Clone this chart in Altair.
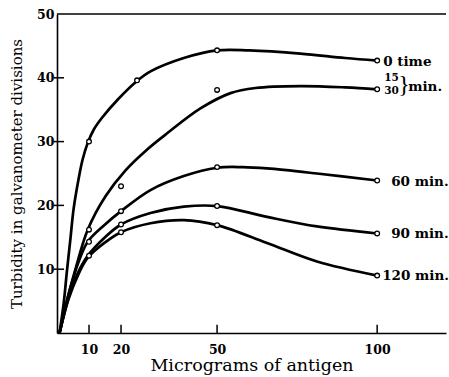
import altair as alt
import pandas as pd

# ---- data ----
series = ["0 time", "15/30 min.", "60 min.", "90 min.", "120 min."]

# smooth (hand-drawn) curves
curve_x_0 = [0.8, 2.1, 3.1, 4.2, 5.2, 6.8, 8, 9.6, 11.5, 14, 19, 25, 29.2, 39.6, 50, 60, 76, 90, 100]
curve_y_0 = [0, 4.7, 9.7, 14.8, 19.5, 24.3, 27.2, 29.8, 31.9, 33.7, 36.6, 39.5, 41, 43.1, 44.3, 44.3, 43.8, 43.1, 42.7]
curve_x_15 = [0.8, 2.6, 5.7, 9.6, 15.1, 21.4, 28, 34.4, 44.8, 54.2, 62, 76, 90, 100]
curve_y_15 = [0, 4.1, 9.9, 16.2, 21.4, 25.5, 28.7, 31.3, 35.2, 37.6, 38.4, 38.7, 38.5, 38.2]
curve_x_60 = [0.8, 3.6, 6.5, 9.6, 15, 20, 29.2, 39.6, 50, 58, 65.6, 81.2, 100]
curve_y_60 = [0, 6, 10.8, 14.3, 17, 19.1, 22.4, 24.6, 25.9, 26.0, 25.8, 25.0, 23.9]
curve_x_90 = [0.8, 3.6, 6.5, 9.6, 15, 20, 29.2, 39.6, 50, 65.6, 81.2, 100]
curve_y_90 = [0, 5.5, 9.4, 12.1, 15, 17, 18.8, 19.8, 19.9, 18.2, 16.7, 15.6]
curve_x_120 = [0.8, 3.6, 6.5, 9.6, 15, 20, 29.2, 39.6, 50, 65.6, 81.2, 100]
curve_y_120 = [0, 5.3, 9, 11.8, 14.2, 15.8, 17.2, 17.7, 16.9, 14.1, 11.2, 9.0]

# measured points (open circles)
pts_x_0 = [10, 25, 50, 100]
pts_y_0 = [30, 39.6, 44.3, 42.7]
pts_x_15 = [10, 20, 50, 100]
pts_y_15 = [16.2, 23, 38.1, 38.2]
pts_x_60 = [10, 20, 50, 100]
pts_y_60 = [14.3, 19.1, 26.0, 23.9]
pts_x_90 = [10, 20, 50, 100]
pts_y_90 = [12.1, 17.0, 19.9, 15.6]
pts_x_120 = [20, 50, 100]
pts_y_120 = [15.8, 16.9, 9.0]

x_tick_values = [10, 20, 50, 100]
y_tick_values = [10, 20, 30, 40, 50]

labels_text = ["0 time", "60 min.", "90 min.", "120 min."]
labels_y = [42.5, 23.7, 15.5, 9.0]
labels_dx = [6, 14, 14, 5]

frac_text = ["15", "30", "}", "min."]
frac_dx = [7, 7, 21, 31]
frac_dy = [-11, 2, -4, -2]
frac_size = [10.5, 10.5, 24, 13.5]
frac_weight = ["bold", "bold", "normal", "bold"]
frac_font = ["DejaVu Serif", "DejaVu Serif", "Liberation Serif", "DejaVu Serif"]

curves = [(curve_x_0, curve_y_0), (curve_x_15, curve_y_15), (curve_x_60, curve_y_60),
          (curve_x_90, curve_y_90), (curve_x_120, curve_y_120)]
points = [(pts_x_0, pts_y_0), (pts_x_15, pts_y_15), (pts_x_60, pts_y_60),
          (pts_x_90, pts_y_90), (pts_x_120, pts_y_120)]

curve_df = pd.DataFrame(
    [{"s": s, "x": x, "y": y, "o": i} for s, (xs, ys) in zip(series, curves) for i, (x, y) in enumerate(zip(xs, ys))]
)
pts_df = pd.DataFrame(
    [{"s": s, "x": x, "y": y} for s, (xs, ys) in zip(series, points) for x, y in zip(xs, ys)]
)
xt_df = pd.DataFrame({"x": x_tick_values})
yt_df = pd.DataFrame({"y": y_tick_values[:-1]})

XMAX = 121.5
xs = alt.Scale(domain=[0, XMAX], nice=False, zero=True)
ys = alt.Scale(domain=[0, 50], nice=False)

FONT = "DejaVu Serif"

x_enc = alt.X("x:Q", scale=xs, axis=alt.Axis(values=x_tick_values, title="Micrograms of antigen",
                                             ticks=False, labelPadding=10, titlePadding=1, grid=False,
                                             titleFontSize=17.5))
y_enc = alt.Y("y:Q", scale=ys, axis=alt.Axis(values=y_tick_values, title="Turbidity in galvanometer divisions",
                                             ticks=False, labelPadding=3, titlePadding=12, grid=False,
                                             titleFontSize=15))

lines = alt.Chart(curve_df).mark_line(interpolate="catmull-rom", color="black", strokeWidth=2.7).encode(
    x=x_enc, y=y_enc, detail="s:N", order="o:Q")

dots = alt.Chart(pts_df).mark_point(shape="circle", filled=True, fill="white", stroke="black",
                                     strokeWidth=1.3, size=22, opacity=1).encode(x="x:Q", y="y:Q")

top = alt.Chart(pd.DataFrame({"y": [50]})).mark_rule(color="black", strokeWidth=1.6).encode(y="y:Q")

xticks = alt.Chart(xt_df).mark_rule(color="black", strokeWidth=1.5).encode(
    x="x:Q", y=alt.datum(0), y2=alt.datum(1.3))
yticks = alt.Chart(yt_df).mark_rule(color="black", strokeWidth=1.5).encode(
    y="y:Q", x=alt.datum(-1.0), x2=alt.datum(2.2))

labels = []
for t, yv, dxv in zip(labels_text, labels_y, labels_dx):
    labels.append(alt.Chart(pd.DataFrame({"x": [100], "y": [yv], "t": [t]})).mark_text(
        align="left", baseline="middle", dx=dxv, font=FONT, fontWeight="bold", fontSize=13.5, color="black"
    ).encode(x="x:Q", y="y:Q", text="t:N"))

for t, dxv, dyv, fs, fw, ff in zip(frac_text, frac_dx, frac_dy, frac_size, frac_weight, frac_font):
    labels.append(alt.Chart(pd.DataFrame({"x": [100], "y": [pts_y_15[-1]], "t": [t]})).mark_text(
        align="left", baseline="middle", dx=dxv, dy=dyv, font=ff, fontWeight=fw, fontSize=fs, color="black"
    ).encode(x="x:Q", y="y:Q", text="t:N"))

chart = alt.layer(lines, top, xticks, yticks, dots, *labels).properties(
    width=389, height=319,
    background="white",
    autosize=alt.AutoSizeParams(type="none"),
    padding={"left": 57, "top": 14, "right": 3, "bottom": 44},
).configure_view(stroke=None).configure_axis(
    domainColor="black", domainWidth=1.6, labelFont=FONT, labelFontWeight="bold", labelFontSize=12.5,
    labelColor="black", titleFont=FONT, titleFontWeight="normal", titleColor="black"
)

chart.save("out.html", embed_options={"renderer": "svg", "actions": False})
